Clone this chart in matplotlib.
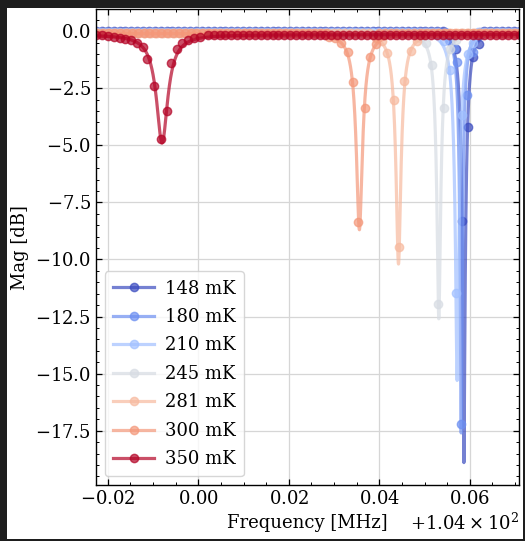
import numpy as np
import matplotlib
matplotlib.use("Agg")
import matplotlib.pyplot as plt
from matplotlib.lines import Line2D
from matplotlib.patches import Rectangle
from matplotlib.ticker import MultipleLocator, ScalarFormatter

# Resonance sweeps of one resonator at several temperatures.
# Frequencies are offsets from 104 MHz (in MHz); magnitudes in dB.
F_REF = 104.0
temps_mK = [148, 180, 210, 245, 281, 300, 350]

# Lorentzian-type fit parameters for each temperature
fit_f0 = [0.0587, 0.0581, 0.0572, 0.05315, 0.04424, 0.0356, -0.0080]
fit_width = [0.00106, 0.00085, 0.0012, 0.0011, 0.00124, 0.00138, 0.0020]
fit_min_db = [-18.9, -17.6, -15.3, -12.6, -10.2, -8.7, -4.9]
baseline_db = [0.0, -0.02, -0.05, -0.08, -0.10, -0.10, -0.15]

# Measured points around each resonance
dip_f = [
    [0.0557, 0.0570, 0.05825, 0.0595, 0.0607, 0.0620],
    [0.0553, 0.0566, 0.0571, 0.05805, 0.05945, 0.0608],
    [0.0543, 0.0556, 0.05695, 0.05821, 0.0595, 0.0608],
    [0.0491, 0.0504, 0.0517, 0.0530, 0.05436, 0.0557, 0.0570],
    [0.0392, 0.0405, 0.0418, 0.0432, 0.04435, 0.04546, 0.0470, 0.0483],
    [0.0289, 0.0302, 0.0315, 0.0330, 0.03425, 0.03536, 0.0368, 0.0379, 0.0392],
    [-0.0200, -0.0187, -0.0174, -0.0161, -0.0148, -0.0135, -0.0122, -0.0113,
     -0.0098, -0.0083, -0.0070, -0.0060, -0.0048, -0.0036, -0.0023, -0.0010,
     0.0003],
]
dip_db = [
    [-0.45, -0.79, -8.3, -4.18, -1.14, -0.55],
    [-0.40, -0.75, -1.33, -17.19, -2.79, -0.90],
    [-0.45, -1.70, -11.47, -3.67, -1.00, -0.50],
    [-0.30, -0.53, -1.48, -11.94, -3.37, -0.80, -0.40],
    [-0.30, -0.45, -0.97, -3.01, -9.46, -2.18, -0.85, -0.45],
    [-0.25, -0.30, -0.53, -0.92, -2.24, -8.34, -3.37, -1.14, -0.55],
    [-0.22, -0.25, -0.29, -0.33, -0.40, -0.50, -0.69, -1.22,
     -2.40, -4.72, -3.49, -1.38, -0.80, -0.52, -0.38, -0.30,
     -0.25],
]
sweep_start = [-0.0226, -0.0222, -0.0227, -0.0224, -0.0221, -0.0225, -0.0226]
sweep_step = 0.0013
sweep_stop = 0.0712

plt.rcParams.update({
    "font.family": "DejaVu Serif",
    "font.size": 13,
    "axes.linewidth": 1.0,
    "xtick.direction": "in",
    "ytick.direction": "in",
    "xtick.top": True,
    "ytick.right": True,
    "xtick.major.size": 4,
    "ytick.major.size": 4,
    "xtick.minor.size": 2,
    "ytick.minor.size": 2,
    "xtick.major.width": 0.9,
    "ytick.major.width": 0.9,
    "xtick.minor.width": 0.7,
    "ytick.minor.width": 0.7,
    "axes.formatter.use_mathtext": True,
})


def resonance_db(f, f0, width, min_db, base_db):
    depth = 1.0 - 10 ** ((min_db - base_db) / 10.0)
    u = (f - f0) / width
    return base_db + 10 * np.log10(1.0 - depth / (1.0 + u ** 2))


fig = plt.figure(figsize=(5.25, 5.41), dpi=100, facecolor="#1e1e1e")
fig.add_artist(Rectangle((6.7 / 525, 2 / 541), (523 - 6.7) / 525, (533 - 2) / 541,
                         transform=fig.transFigure, facecolor="white",
                         edgecolor="none", zorder=-10))
ax = fig.add_axes([0.1823, 0.1026, 0.9895 - 0.1823, 0.9834 - 0.1026])

cmap = plt.get_cmap("coolwarm")
norm = plt.Normalize(min(temps_mK), max(temps_mK))
alpha = 0.7
handles = []
for i, T in enumerate(temps_mK):
    color = cmap(norm(T))
    # sweep points: baseline away from the dip, measured values near it
    grid = np.arange(sweep_start[i], sweep_stop, sweep_step)
    lo, hi = min(dip_f[i]) - sweep_step / 2, max(dip_f[i]) + sweep_step / 2
    base_f = grid[(grid < lo) | (grid > hi)]
    pts_f = np.concatenate([base_f, dip_f[i]])
    pts_db = np.concatenate([np.full(base_f.size, baseline_db[i]), dip_db[i]])
    order = np.argsort(pts_f)
    pts_f, pts_db = pts_f[order], pts_db[order]

    f_fit = np.linspace(-0.025, 0.075, 6000)
    db_fit = resonance_db(f_fit, fit_f0[i], fit_width[i], fit_min_db[i], baseline_db[i])

    ax.plot(F_REF + pts_f, pts_db, "o", color=color, alpha=alpha, ms=6, mew=1)
    ax.plot(F_REF + f_fit, db_fit, "-", color=color, alpha=alpha, lw=2.3)
    handles.append(Line2D([], [], color=color, alpha=alpha, lw=2.3, marker="o",
                          ms=6, mew=1, label=f"{T} mK"))

ax.set_xlim(F_REF - 0.02267, F_REF + 0.07098)
ax.set_ylim(-19.9, 0.972)
ax.xaxis.set_major_locator(MultipleLocator(0.02))
ax.xaxis.set_minor_locator(MultipleLocator(0.005))
ax.yaxis.set_major_locator(MultipleLocator(2.5))
ax.yaxis.set_minor_locator(MultipleLocator(0.5))
fmt = ScalarFormatter(useOffset=True, useMathText=True)
ax.xaxis.set_major_formatter(fmt)

ax.set_axisbelow(True)
ax.grid(True, which="major", color="#d6d6d6", lw=0.9)
ax.set_xlabel("Frequency [MHz]")
ax.set_ylabel("Mag [dB]")
ax.legend(handles=handles, loc="lower left", fontsize=13, handlelength=2.3,
          handletextpad=0.6, labelspacing=0.58, borderpad=0.45,
          numpoints=1, framealpha=0.8, edgecolor="#cccccc", fancybox=True)

fig.savefig("out.png", dpi=100, facecolor=fig.get_facecolor())
